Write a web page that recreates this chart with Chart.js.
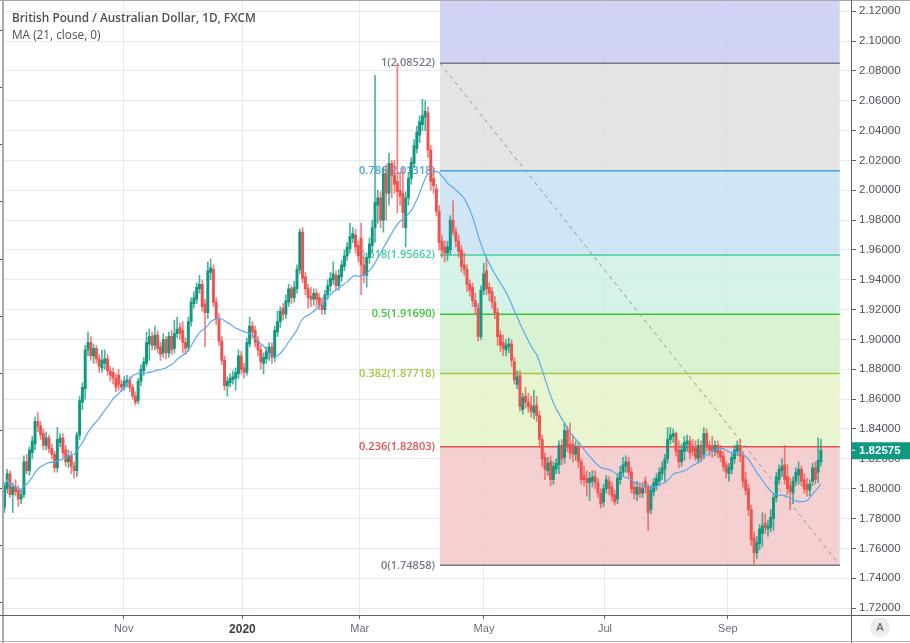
<!DOCTYPE html>
<html>
<head>
<meta charset="utf-8">
<script src="https://cdn.jsdelivr.net/npm/chart.js@4.4.1/dist/chart.umd.min.js"></script>
<style>
body{margin:0;background:#fff;}
#wrap{position:relative;width:910px;height:643px;overflow:hidden;}
#head{position:absolute;left:12px;top:9px;color:#505050;font-family:"Open Sans",sans-serif;font-size:11.8px;line-height:17px;pointer-events:none;}
#head b{font-weight:600;}
.ln{position:absolute;}
#auto{position:absolute;left:870px;top:617px;width:20px;height:20px;border-radius:50%;background:#ececef;color:#555;font:11px "Liberation Sans",sans-serif;text-align:center;line-height:20px;}
</style>
</head>
<body>
<div id="wrap">
<canvas id="c" width="910" height="643"></canvas>
<div id="head"><b>British Pound / Australian Dollar, 1D, FXCM</b><br>MA (21, close, 0)</div>
<div class="ln" style="left:0;top:0;width:910px;height:1px;background:#a6a9b0"></div>
<div class="ln" style="left:2px;top:0;width:1.5px;height:643px;background:#a6a9b0"></div>
<div class="ln" style="left:851px;top:0;width:1px;height:643px;background:#5f626b"></div>
<div class="ln" style="left:0;top:615px;width:910px;height:1px;background:#5f626b"></div>
<div class="ln" style="left:0;top:641px;width:910px;height:1px;background:#b0b3ba"></div>
<div id="auto">A</div>
</div>
<script>
// GBP/AUD daily candles (index = trading day)
const openP = [
1.787,1.800,1.810,1.796,1.801,1.799,1.793,1.796,1.818,1.812,
1.824,1.830,1.845,1.842,1.837,1.829,1.834,1.827,1.823,1.814,
1.831,1.834,1.826,1.818,1.822,1.815,1.812,1.836,1.858,1.867,
1.893,1.898,1.889,1.894,1.887,1.881,1.884,1.887,1.879,1.878,
1.874,1.876,1.870,1.868,1.871,1.873,1.868,1.862,1.859,1.872,
1.879,1.884,1.897,1.902,1.896,1.903,1.895,1.891,1.900,1.891,
1.902,1.894,1.904,1.908,1.906,1.898,1.895,1.912,1.924,1.927,
1.934,1.937,1.924,1.918,1.945,1.947,1.925,1.914,1.899,1.886,
1.869,1.871,1.873,1.874,1.877,1.889,1.881,1.878,1.897,1.909,
1.906,1.899,1.893,1.884,1.887,1.891,1.895,1.888,1.905,1.912,
1.921,1.917,1.925,1.934,1.928,1.934,1.947,1.972,1.942,1.934,
1.929,1.927,1.931,1.928,1.923,1.920,1.930,1.936,1.940,1.943,
1.936,1.942,1.949,1.956,1.961,1.968,1.970,1.963,1.968,1.950,
1.943,1.955,1.963,1.975,1.990,1.995,1.980,2.011,1.998,2.018,
2.010,2.006,2.000,1.998,1.975,1.995,2.008,2.018,2.028,2.037,
2.044,2.049,2.052,2.027,2.008,2.001,1.986,1.966,1.962,1.958,
1.960,1.980,1.972,1.966,1.960,1.950,1.947,1.937,1.935,1.926,
1.921,1.902,1.933,1.946,1.935,1.932,1.925,1.918,1.903,1.898,
1.893,1.895,1.897,1.885,1.870,1.876,1.853,1.862,1.858,1.856,
1.851,1.856,1.849,1.833,1.821,1.812,1.818,1.806,1.813,1.816,
1.829,1.821,1.839,1.830,1.830,1.823,1.828,1.818,1.809,1.807,
1.804,1.805,1.808,1.804,1.797,1.791,1.800,1.805,1.801,1.796,
1.793,1.806,1.811,1.815,1.818,1.811,1.801,1.796,1.801,1.797,
1.805,1.801,1.786,1.798,1.802,1.805,1.810,1.813,1.820,1.833,
1.835,1.837,1.826,1.818,1.825,1.830,1.832,1.828,1.827,1.820,
1.829,1.823,1.837,1.829,1.829,1.825,1.829,1.825,1.822,1.816,
1.810,1.813,1.820,1.825,1.829,1.822,1.806,1.800,1.786,1.767,
1.757,1.763,1.770,1.777,1.773,1.774,1.780,1.794,1.806,1.812,
1.816,1.808,1.802,1.797,1.805,1.809,1.813,1.806,1.803,1.799,
1.805,1.814,1.811,1.818
];
const highP = [
1.804,1.813,1.812,1.804,1.806,1.802,1.799,1.822,1.823,1.828,
1.835,1.848,1.851,1.845,1.840,1.838,1.836,1.830,1.825,1.841,
1.837,1.837,1.829,1.826,1.825,1.818,1.838,1.862,1.871,1.896,
1.905,1.902,1.897,1.896,1.890,1.893,1.893,1.890,1.882,1.881,
1.877,1.880,1.873,1.875,1.876,1.875,1.870,1.865,1.874,1.883,
1.888,1.905,1.907,1.905,1.909,1.906,1.898,1.904,1.902,1.905,
1.906,1.913,1.915,1.911,1.912,1.901,1.915,1.928,1.932,1.938,
1.943,1.940,1.927,1.952,1.954,1.950,1.928,1.917,1.902,1.889,
1.875,1.877,1.879,1.881,1.893,1.892,1.884,1.901,1.915,1.912,
1.909,1.902,1.896,1.891,1.895,1.898,1.898,1.909,1.919,1.922,
1.924,1.930,1.937,1.936,1.939,1.950,1.974,1.975,1.945,1.937,
1.935,1.934,1.934,1.931,1.928,1.933,1.940,1.945,1.952,1.946,
1.947,1.953,1.960,1.965,1.978,1.975,1.974,1.966,1.978,1.955,
1.958,1.968,1.980,2.077,2.000,1.999,2.015,2.017,2.025,2.020,
2.020,2.0852,2.012,2.015,1.999,2.012,2.022,2.034,2.043,2.050,
2.061,2.060,2.056,2.030,2.015,2.004,1.990,1.970,1.966,1.966,
1.983,1.993,1.975,1.970,1.963,1.958,1.950,1.940,1.938,1.931,
1.924,1.936,1.951,1.955,1.938,1.935,1.929,1.921,1.906,1.903,
1.900,1.901,1.900,1.888,1.879,1.879,1.864,1.868,1.864,1.862,
1.866,1.862,1.852,1.836,1.824,1.821,1.822,1.818,1.820,1.832,
1.833,1.844,1.842,1.844,1.836,1.832,1.831,1.820,1.815,1.812,
1.811,1.812,1.812,1.807,1.800,1.803,1.809,1.808,1.804,1.799,
1.810,1.815,1.821,1.822,1.821,1.814,1.804,1.805,1.804,1.804,
1.808,1.803,1.802,1.807,1.810,1.814,1.818,1.823,1.841,1.841,
1.840,1.838,1.832,1.830,1.835,1.836,1.835,1.833,1.832,1.833,
1.832,1.841,1.840,1.832,1.835,1.832,1.832,1.829,1.825,1.818,
1.817,1.824,1.829,1.832,1.833,1.825,1.811,1.803,1.789,1.771,
1.768,1.776,1.784,1.783,1.779,1.786,1.797,1.811,1.816,1.820,
1.829,1.816,1.807,1.808,1.814,1.818,1.815,1.810,1.807,1.806,
1.817,1.818,1.834,1.833
];
const lowP = [
1.784,1.797,1.794,1.784,1.795,1.788,1.790,1.794,1.810,1.809,
1.820,1.826,1.838,1.833,1.826,1.826,1.824,1.820,1.811,1.811,
1.828,1.821,1.815,1.814,1.810,1.807,1.808,1.833,1.853,1.860,
1.889,1.886,1.884,1.884,1.878,1.878,1.880,1.876,1.872,1.870,
1.865,1.866,1.865,1.866,1.868,1.865,1.860,1.856,1.857,1.869,
1.876,1.882,1.886,1.893,1.893,1.891,1.886,1.888,1.887,1.888,
1.890,1.891,1.901,1.900,1.891,1.890,1.892,1.909,1.921,1.924,
1.931,1.919,1.895,1.914,1.940,1.922,1.910,1.896,1.883,1.866,
1.862,1.868,1.870,1.866,1.874,1.877,1.874,1.876,1.895,1.901,
1.895,1.889,1.880,1.877,1.884,1.886,1.884,1.885,1.902,1.908,
1.913,1.914,1.922,1.924,1.925,1.931,1.944,1.938,1.930,1.921,
1.922,1.923,1.922,1.920,1.917,1.917,1.927,1.932,1.937,1.933,
1.933,1.939,1.946,1.953,1.958,1.965,1.958,1.952,1.930,1.938,
1.935,1.951,1.958,1.965,1.978,1.975,1.972,1.980,1.990,1.995,
1.998,1.985,1.990,1.975,1.962,1.990,2.004,2.015,2.025,2.032,
2.040,2.040,2.022,2.000,1.998,1.983,1.960,1.955,1.952,1.953,
1.957,1.970,1.962,1.955,1.945,1.943,1.932,1.929,1.922,1.917,
1.899,1.900,1.930,1.930,1.926,1.921,1.914,1.896,1.892,1.889,
1.889,1.891,1.882,1.870,1.867,1.852,1.850,1.854,1.851,1.848,
1.847,1.845,1.829,1.815,1.806,1.809,1.802,1.803,1.810,1.810,
1.816,1.817,1.825,1.820,1.818,1.819,1.814,1.803,1.802,1.795,
1.792,1.801,1.800,1.794,1.787,1.788,1.797,1.796,1.792,1.789,
1.790,1.803,1.808,1.811,1.808,1.797,1.793,1.792,1.794,1.794,
1.797,1.772,1.783,1.795,1.799,1.802,1.806,1.805,1.817,1.830,
1.831,1.822,1.814,1.815,1.819,1.825,1.820,1.822,1.819,1.817,
1.818,1.820,1.825,1.822,1.821,1.822,1.821,1.818,1.812,1.807,
1.805,1.810,1.817,1.822,1.818,1.801,1.796,1.782,1.762,1.7486,
1.753,1.759,1.761,1.770,1.768,1.771,1.772,1.791,1.803,1.808,
1.803,1.796,1.786,1.790,1.802,1.803,1.802,1.797,1.795,1.795,
1.802,1.803,1.804,1.815
];
const closeP = [
1.802,1.810,1.796,1.801,1.798,1.793,1.796,1.818,1.812,1.826,
1.832,1.845,1.842,1.836,1.829,1.834,1.827,1.823,1.814,1.833,
1.834,1.824,1.818,1.822,1.815,1.812,1.836,1.859,1.868,1.893,
1.898,1.889,1.894,1.887,1.882,1.886,1.887,1.879,1.876,1.874,
1.868,1.870,1.868,1.872,1.873,1.868,1.862,1.858,1.872,1.880,
1.885,1.898,1.902,1.896,1.903,1.894,1.890,1.900,1.891,1.902,
1.893,1.904,1.907,1.904,1.898,1.894,1.912,1.925,1.928,1.935,
1.937,1.922,1.918,1.946,1.948,1.925,1.914,1.899,1.886,1.869,
1.872,1.874,1.875,1.878,1.889,1.880,1.878,1.898,1.909,1.905,
1.898,1.893,1.885,1.888,1.892,1.895,1.888,1.906,1.912,1.919,
1.917,1.926,1.934,1.928,1.935,1.947,1.972,1.941,1.934,1.928,
1.927,1.931,1.927,1.923,1.920,1.930,1.936,1.941,1.944,1.936,
1.943,1.950,1.956,1.962,1.969,1.971,1.962,1.956,1.950,1.943,
1.955,1.964,1.975,1.992,1.995,1.980,2.011,1.998,2.018,2.010,
2.004,1.999,1.996,1.985,1.995,2.008,2.019,2.030,2.039,2.046,
2.050,2.053,2.027,2.006,2.003,1.986,1.965,1.960,1.958,1.962,
1.980,1.972,1.966,1.959,1.949,1.947,1.937,1.933,1.926,1.922,
1.902,1.933,1.944,1.934,1.931,1.925,1.918,1.902,1.896,1.894,
1.896,1.897,1.886,1.873,1.875,1.855,1.861,1.858,1.855,1.852,
1.855,1.849,1.833,1.820,1.813,1.817,1.806,1.815,1.817,1.829,
1.820,1.839,1.828,1.824,1.823,1.828,1.818,1.806,1.806,1.804,
1.807,1.808,1.804,1.797,1.790,1.800,1.806,1.800,1.795,1.791,
1.807,1.811,1.816,1.818,1.811,1.800,1.797,1.801,1.797,1.800,
1.801,1.784,1.799,1.804,1.807,1.811,1.814,1.820,1.833,1.836,
1.837,1.825,1.818,1.826,1.831,1.832,1.824,1.825,1.821,1.829,
1.821,1.837,1.828,1.826,1.825,1.829,1.824,1.821,1.815,1.811,
1.814,1.821,1.826,1.829,1.822,1.805,1.799,1.786,1.766,1.757,
1.764,1.773,1.775,1.774,1.775,1.781,1.794,1.808,1.813,1.815,
1.806,1.800,1.798,1.805,1.811,1.813,1.805,1.800,1.799,1.803,
1.814,1.806,1.819,1.82575
];

// axis ticks
const monthLabels = ['Nov', '2020', 'Mar', 'May', 'Jul', 'Sep'];
const monthPos = [42.8, 85.4, 127.5, 172.1, 215.5, 259.6];
const priceTicks = [1.72, 1.74, 1.76, 1.78, 1.80, 1.82, 1.84, 1.86, 1.88, 1.90,
  1.92, 1.94, 1.96, 1.98, 2.00, 2.02, 2.04, 2.06, 2.08, 2.10, 2.12];
const leftTicks = [0, 1, 2, 3, 4, 5, 6, 7, 8, 9, 10];

// fibonacci retracement
const fibLevels = ['0', '0.236', '0.382', '0.5', '0.618', '0.786', '1'];
const fibPrices = [1.74858, 1.82803, 1.87718, 1.91690, 1.95662, 2.01318, 2.08522];
const fibStart = 156.3, fibEnd = 299.8;

const fibLine = ['#787b86', '#e35151', '#9fcb3e', '#35c935', '#45cf9c', '#4ba3e3', '#787b86'];
const fibBand = [null, 'rgba(241,196,196,0.8)', 'rgba(227,241,198,0.8)', 'rgba(207,239,197,0.8)',
  'rgba(203,240,224,0.8)', 'rgba(198,224,242,0.8)', 'rgba(221,221,221,0.8)'];
const topBand = 'rgba(198,200,241,0.8)';

const UP = '#0f9981', DN = '#ef5350';
const upW = 'rgba(15,153,129,0.75)', dnW = 'rgba(239,83,80,0.75)';

// MA(21, close)
const ma = closeP.map((c, i) => {
  const s = closeP.slice(Math.max(0, i - 20), i + 1);
  return s.reduce((a, b) => a + b, 0) / s.length;
});

const isUp = closeP.map((c, i) => c >= openP[i]);

const fibSets = fibPrices.map((p, k) => ({
  type: 'line',
  data: [{x: fibStart, y: p}, {x: fibEnd, y: p}],
  borderColor: fibLine[k],
  borderWidth: 1.5,
  pointRadius: 0,
  fill: k === 0 ? false : '-1',
  backgroundColor: fibBand[k],
  order: 10
}));

const datasets = fibSets.concat([
  {
    type: 'line',
    data: [{x: fibStart, y: fibPrices[6]}, {x: fibEnd, y: fibPrices[6]}],
    borderWidth: 0, pointRadius: 0, fill: 'end', backgroundColor: topBand, order: 11
  },
  {
    type: 'line',
    data: [{x: fibStart, y: fibPrices[6]}, {x: fibEnd, y: fibPrices[0]}],
    borderColor: '#9598a1', borderWidth: 1, borderDash: [4, 4], pointRadius: 0, fill: false, order: 5
  },
  {
    type: 'bar',
    data: openP.map((o, i) => ({x: i, y: [lowP[i], highP[i]]})),
    backgroundColor: isUp.map(u => u ? upW : dnW),
    barThickness: 1, grouped: false, borderWidth: 0, minBarLength: 1, order: 3
  },
  {
    type: 'bar',
    data: openP.map((o, i) => ({x: i, y: [o, closeP[i]]})),
    backgroundColor: isUp.map(u => u ? UP : DN),
    barThickness: 2.3, grouped: false, borderWidth: 0, minBarLength: 1, order: 2
  },
  {
    type: 'line',
    data: ma.map((v, i) => ({x: i, y: v})),
    borderColor: '#5aa9ee', borderWidth: 1.2, pointRadius: 0, fill: false, tension: 0, order: 1
  }
]);
datasets.forEach(d => { d.xAxisID = 'x'; d.yAxisID = 'y'; });

const fibLabels = {
  id: 'fibLabels',
  beforeDatasetsDraw(chart) {
    const {ctx, scales: {x, y}} = chart;
    ctx.save();
    ctx.font = '600 11px "Open Sans", sans-serif';
    ctx.textAlign = 'right';
    ctx.textBaseline = 'middle';
    fibPrices.forEach((p, k) => {
      ctx.fillStyle = fibLine[k];
      ctx.fillText(fibLevels[k] + '(' + p.toFixed(5) + ')', x.getPixelForValue(fibStart) - 5, y.getPixelForValue(p));
    });
    ctx.restore();
  }
};

const priceTag = {
  id: 'priceTag',
  afterDraw(chart) {
    const {ctx, chartArea, scales: {y}} = chart;
    const last = closeP[closeP.length - 1];
    const py = y.getPixelForValue(last);
    ctx.save();
    ctx.fillStyle = UP;
    ctx.fillRect(chartArea.right, py - 8, 59, 17);
    ctx.fillStyle = '#fff';
    ctx.fillRect(chartArea.right, py - 0.5, 4, 1);
    ctx.font = 'bold 11.5px "Liberation Sans", Arial, sans-serif';
    ctx.textBaseline = 'middle';
    ctx.fillText(last.toFixed(5), chartArea.right + 8, py + 0.5);
    ctx.restore();
  }
};

new Chart(document.getElementById('c'), {
  type: 'bar',
  data: {datasets: datasets},
  options: {
    responsive: false,
    animation: false,
    events: [],
    layout: {padding: 0, autoPadding: false},
    plugins: {legend: {display: false}, tooltip: {enabled: false}},
    scales: {
      x: {
        type: 'linear', position: 'bottom', min: -0.5, max: 303.8, offset: false,
        afterBuildTicks: s => { s.ticks = monthPos.map(v => ({value: v})); },
        afterFit: s => { s.height = 28; s.paddingLeft = 0; s.paddingRight = 0; },
        border: {display: false},
        grid: {color: '#e4eaf1', tickColor: '#5f626b', tickLength: 4, offset: false},
        ticks: {
          autoSkip: false, maxRotation: 0, padding: 3,
          callback: (v, i) => monthLabels[i],
          color: c => c.tick && c.tick.label === '2020' ? '#3d3d3d' : '#6a6d78',
          font: c => c.tick && c.tick.label === '2020'
            ? {family: '"Liberation Sans", Arial, sans-serif', size: 12, weight: 'bold'}
            : {family: '"Liberation Sans", Arial, sans-serif', size: 11}
        }
      },
      y: {
        type: 'linear', position: 'right', min: 1.71531, max: 2.12758,
        afterBuildTicks: s => { s.ticks = priceTicks.map(v => ({value: v})); },
        afterFit: s => { s.width = 59; s.paddingTop = 0; s.paddingBottom = 0; },
        border: {display: false},
        grid: {color: '#e4eaf1', tickColor: '#5f626b', tickLength: 5},
        ticks: {
          padding: 3, color: '#4e5059',
          font: {family: '"Liberation Sans", Arial, sans-serif', size: 11.5},
          callback: v => v.toFixed(5)
        }
      },
      yL: {
        axis: 'y', type: 'linear', position: 'left', min: -0.215, max: 10.524,
        afterBuildTicks: s => { s.ticks = leftTicks.map(v => ({value: v})); },
        afterFit: s => { s.width = 3; s.paddingTop = 0; s.paddingBottom = 0; },
        border: {display: false},
        grid: {drawOnChartArea: false, tickColor: '#4e5059', tickLength: 3},
        ticks: {display: false}
      }
    }
  },
  plugins: [fibLabels, priceTag]
});
</script>
</body>
</html>
